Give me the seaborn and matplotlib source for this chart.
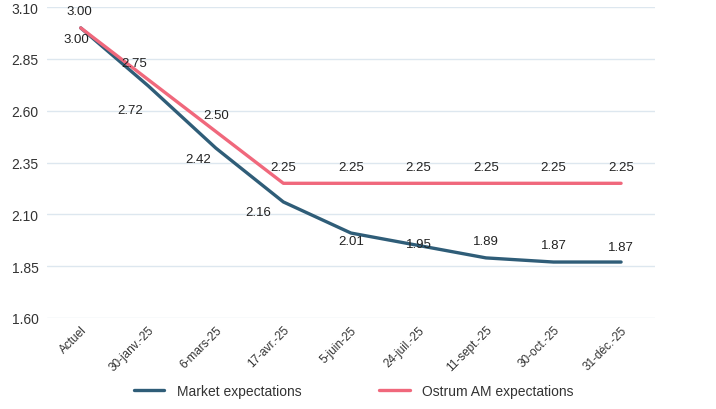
import matplotlib
matplotlib.use("Agg")
import matplotlib.pyplot as plt
import seaborn as sns
import pandas as pd
import numpy as np

dates = ["Actuel", "30-janv.-25", "6-mars-25", "17-avr.-25", "5-juin-25",
         "24-juil.-25", "11-sept.-25", "30-oct.-25", "31-déc.-25"]
market = [3.00, 2.72, 2.42, 2.16, 2.01, 1.95, 1.89, 1.87, 1.87]
ostrum = [3.00, 2.75, 2.50, 2.25, 2.25, 2.25, 2.25, 2.25, 2.25]
series_names = ["Market expectations", "Ostrum AM expectations"]
y_ticks = [1.60, 1.85, 2.10, 2.35, 2.60, 2.85, 3.10]

colors = {"Market expectations": "#2f5d78", "Ostrum AM expectations": "#f0687c"}

# label offsets in points (dx, dy)
market_off = [(-3, -8), (-13, -17), (-13, -8), (-18, -7), (0, -6), (0, 1), (0, 12), (0, 12), (0, 11)]
ostrum_off = [(-1, 12), (-10, 12), (0, 12), (0, 12), (0, 12), (0, 12), (0, 12), (0, 12), (0, 12)]

sns.set_theme(style="white")
plt.rcParams["font.family"] = ["Liberation Sans", "DejaVu Sans"]

df = pd.DataFrame({
    "date": dates * 2,
    "value": market + ostrum,
    "series": [series_names[0]] * len(dates) + [series_names[1]] * len(dates),
})
df["x"] = np.tile(np.arange(len(dates)), 2)

fig = plt.figure(figsize=(7.16, 4.10), dpi=100)
ax = fig.add_axes([0.0656, 0.222, 0.849, 0.758])

sns.lineplot(data=df, x="x", y="value", hue="series", palette=colors,
             linewidth=2.4, ax=ax, legend=True)

ax.set_xlim(-0.5, len(dates) - 0.5)
ax.set_ylim(1.60, 3.10)
ax.set_yticks(y_ticks)
ax.set_yticklabels([f"{v:.2f}" for v in y_ticks], fontsize=10, color="#333333")
ax.set_xticks(range(len(dates)))
ax.set_xticklabels(dates, rotation=45, ha="right", rotation_mode="anchor",
                   fontsize=8.5, color="#333333")
ax.tick_params(axis="x", pad=4, length=0)
ax.tick_params(axis="y", pad=6, length=0)
ax.grid(axis="y", color="#dde7ef", linewidth=1)
ax.set_axisbelow(True)
for s in ax.spines.values():
    s.set_visible(False)
ax.set_xlabel("")
ax.set_ylabel("")

for i, v in enumerate(market):
    ax.annotate(f"{v:.2f}", (i, v), xytext=market_off[i], textcoords="offset points",
                ha="center", va="center", fontsize=9.5, color="#222222")
for i, v in enumerate(ostrum):
    ax.annotate(f"{v:.2f}", (i, v), xytext=ostrum_off[i], textcoords="offset points",
                ha="center", va="center", fontsize=9.5, color="#222222")

handles, labels = ax.get_legend_handles_labels()
ax.legend(handles, labels, loc="center", bbox_to_anchor=(0.505, -0.235),
          ncol=2, frameon=False, fontsize=10, handlelength=2.2, handletextpad=0.9,
          columnspacing=5.6, labelcolor="#333333")

fig.savefig("out.png", dpi=100)
